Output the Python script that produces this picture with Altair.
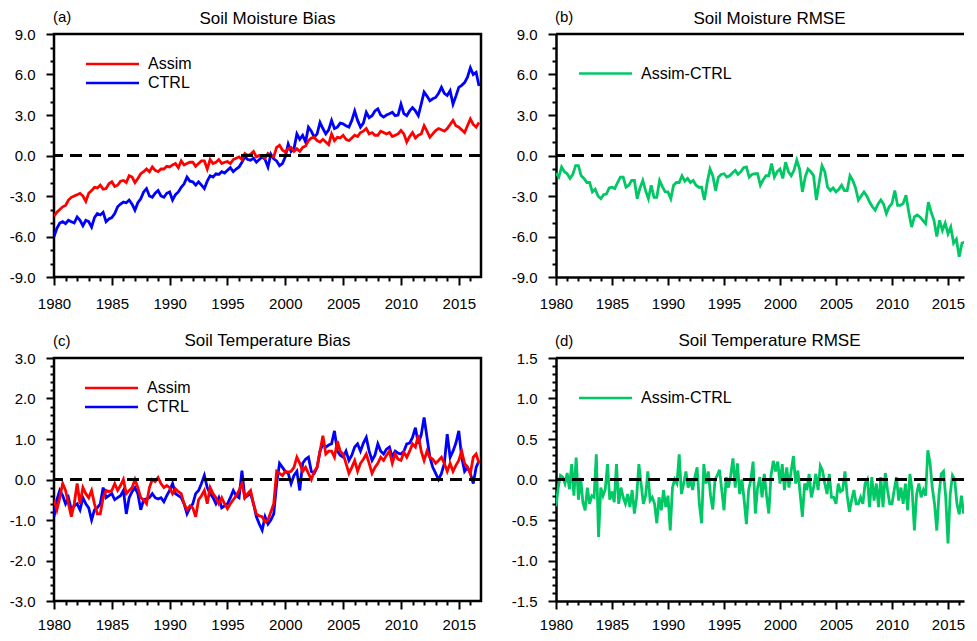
import altair as alt
import pandas as pd

FONT = "Liberation Sans"

def flat(rows):
    return [v for r in rows for v in r]

# ---------------- data (quarterly, 1980.00 .. 2016.75) ----------------
sm_assim = flat([
    [-4.5, -4.2, -4.0, -3.8], [-3.7, -3.3, -3.1, -3.0], [-2.9, -2.8, -3.0, -3.4],
    [-2.8, -2.6, -2.35, -2.4], [-2.2, -2.5, -2.45, -2.1], [-1.95, -2.3, -2.2, -1.9],
    [-1.85, -2.0, -1.5, -1.6], [-2.0, -1.7, -1.35, -1.2], [-1.0, -1.2, -0.85, -1.1],
    [-1.2, -1.0, -1.0, -0.8], [-0.85, -0.7, -0.6, -0.9], [-0.4, -0.7, -0.6, -0.5],
    [-0.5, -0.8, -0.6, -0.4], [-0.4, -1.0, -0.3, -0.6], [-0.5, -0.3, -0.6, -0.5],
    [-0.45, -0.6, -0.3, -0.2], [-0.1, -0.3, 0.15, 0.0], [0.1, 0.3, -0.1, 0.0],
    [0.0, -0.2, 0.15, 0.0], [-0.1, 0.6, 0.75, 0.4], [0.25, 0.5, 0.6, 0.3],
    [0.5, 0.3, 0.6, 0.7], [1.1, 1.3, 1.35, 1.1], [1.0, 1.2, 1.0, 0.8],
    [1.6, 1.1, 1.35, 1.3], [1.5, 1.2, 1.1, 1.3], [1.5, 1.4, 1.7, 1.8],
    [2.0, 1.6, 1.7, 1.5], [1.5, 1.8, 1.7, 1.6], [1.7, 1.4, 1.5, 1.6],
    [1.85, 1.6, 1.0, 1.4], [1.7, 1.3, 1.5, 1.6], [2.2, 1.8, 1.35, 1.6],
    [1.85, 2.0, 1.9, 1.8], [2.0, 2.3, 2.6, 2.2], [2.1, 1.9, 1.7, 2.2],
    [2.7, 2.3, 2.1, 2.45],
])
sm_ctrl = flat([
    [-6.0, -5.4, -5.0, -4.9], [-5.05, -4.8, -4.9, -5.0], [-4.55, -4.8, -5.2, -4.8],
    [-4.9, -5.3, -4.6, -4.3], [-4.4, -4.2, -4.9, -4.7], [-4.6, -4.3, -3.8, -3.6],
    [-3.45, -3.5, -3.3, -3.6], [-4.05, -3.5, -3.2, -2.7], [-2.45, -3.0, -3.1, -2.8],
    [-2.6, -3.0, -3.1, -2.8], [-2.7, -3.3, -2.9, -2.7], [-2.35, -2.1, -1.6, -1.9],
    [-1.95, -2.2, -1.95, -2.2], [-2.45, -1.9, -1.5, -1.6], [-1.35, -1.4, -1.2, -1.3],
    [-1.1, -0.9, -1.2, -1.0], [-0.85, -0.5, -0.1, -0.3], [-0.35, -0.2, -0.5, -0.3],
    [-0.1, -0.3, -0.85, 0.1], [-0.25, -0.4, -0.75, -0.6], [-0.1, 0.85, 0.3, 0.5],
    [1.6, 1.2, 1.5, 1.0], [2.1, 1.8, 1.35, 1.6], [2.45, 2.0, 1.6, 1.9],
    [2.6, 2.0, 2.1, 2.4], [2.35, 2.2, 2.1, 2.6], [3.3, 2.6, 2.1, 2.4],
    [3.2, 2.8, 2.95, 3.3], [3.45, 3.0, 2.85, 3.0], [3.1, 3.2, 2.95, 3.0],
    [3.8, 3.1, 2.95, 3.3], [3.55, 3.3, 2.95, 3.8], [4.7, 4.4, 4.05, 4.2],
    [4.3, 4.6, 5.05, 4.6], [4.45, 4.8, 3.8, 4.4], [5.05, 5.2, 5.4, 5.8],
    [6.5, 6.0, 6.15, 5.15],
])
sm_diff = flat([
    [-1.3, -1.6, -0.85, -1.2], [-1.35, -1.7, -1.4, -0.75], [-0.75, -1.5, -1.7, -2.0],
    [-2.0, -2.7, -2.5, -3.0], [-3.2, -2.9, -2.85, -2.4], [-2.35, -2.45, -2.0, -1.6],
    [-1.6, -2.35, -2.2, -1.85], [-1.85, -3.2, -2.4, -1.85], [-2.6, -3.2, -2.2, -3.1],
    [-3.1, -1.85, -2.3, -2.7], [-2.7, -3.2, -2.2, -2.0], [-2.0, -1.5, -1.9, -1.7],
    [-2.0, -1.85, -2.2, -2.35], [-2.35, -3.3, -2.0, -1.0], [-1.5, -2.6, -1.6, -1.4],
    [-1.35, -1.6, -1.5, -1.3], [-1.1, -1.4, -1.2, -0.9], [-0.85, -1.6, -1.4, -1.35],
    [-1.35, -2.2, -1.8, -1.5], [-1.5, -0.6, -1.6, -1.2], [-1.0, -1.7, -0.5, -1.2],
    [-1.5, -1.1, -0.35, -1.0], [-2.7, -1.6, -1.0, -1.2], [-1.5, -3.3, -2.0, -0.75],
    [-1.2, -2.35, -2.6, -2.4], [-2.7, -2.5, -2.2, -2.6], [-2.6, -1.5, -1.85, -2.4],
    [-3.3, -3.0, -2.7, -3.0], [-3.45, -3.8, -4.05, -3.6], [-3.3, -3.6, -4.3, -3.8],
    [-3.55, -2.6, -3.7, -3.7], [-3.55, -2.95, -4.2, -5.3], [-4.55, -4.4, -4.55, -4.8],
    [-5.05, -3.45, -4.2, -4.8], [-6.0, -4.8, -5.55, -5.0], [-5.8, -5.3, -6.5, -6.2],
    [-7.5, -6.5, -6.4, -6.3],
])
st_assim = flat([
    [-0.5, -0.75, -0.45, -0.1], [-0.27, -0.6, -0.92, -0.6], [-0.1, -0.6, -0.2, -0.35],
    [-0.45, -0.27, -0.6, -0.85], [-0.85, -0.45, -0.27, -0.3], [-0.27, -0.1, -0.27, -0.15],
    [0.0, -0.35, -0.27, -0.2], [0.0, -0.2, -0.45, -0.5], [-0.6, -0.2, 0.0, -0.05],
    [0.05, -0.1, -0.2, -0.15], [-0.2, -0.35, -0.23, -0.3], [-0.35, -0.6, -0.75, -0.65],
    [-0.7, -0.92, -0.5, -0.4], [-0.27, -0.6, -0.2, -0.35], [-0.45, -0.6, -0.45, -0.6],
    [-0.72, -0.6, -0.5, -0.4], [-0.27, -0.1, -0.45, -0.35], [-0.27, -0.6, -0.85, -0.9],
    [-0.92, -1.05, -1.0, -0.8], [-0.6, 0.2, 0.15, 0.1], [0.2, 0.18, 0.2, 0.3],
    [0.55, 0.4, 0.2, 0.3], [0.15, 0.0, 0.2, 0.3], [0.7, 1.08, 0.63, 0.7],
    [0.7, 0.55, 0.95, 0.7], [0.63, 0.4, 0.15, 0.3], [0.47, 0.2, 0.4, 0.5],
    [0.63, 0.4, 0.15, 0.3], [0.4, 0.55, 0.47, 0.6], [0.7, 0.4, 0.63, 0.5],
    [0.47, 0.67, 0.55, 0.7], [0.88, 0.8, 1.1, 0.7], [0.47, 0.7, 0.55, 0.5],
    [0.4, 0.47, 0.55, 0.4], [0.2, 0.4, 0.2, 0.35], [0.47, 0.7, 0.4, 0.3],
    [0.15, 0.55, 0.63, 0.4],
])
st_ctrl = flat([
    [-0.92, -0.5, -0.27, -0.4], [-0.6, -0.45, -0.75, -0.65], [-0.6, -0.75, -0.45, -0.6],
    [-0.7, -1.0, -0.75, -0.7], [-0.6, -0.2, -0.45, -0.4], [-0.35, -0.5, -0.45, -0.4],
    [-0.27, -0.85, -0.45, -0.3], [-0.2, -0.35, -0.75, -0.5], [-0.48, -0.45, -0.35, -0.45],
    [-0.48, -0.45, -0.55, -0.4], [-0.27, -0.1, -0.35, -0.4], [-0.45, -0.6, -0.85, -0.7],
    [-0.6, -0.35, -0.27, -0.1], [0.1, -0.2, -0.35, -0.45], [-0.6, -0.45, -0.7, -0.65],
    [-0.6, -0.45, -0.27, -0.4], [-0.45, 0.22, -0.45, -0.4], [-0.35, -0.6, -0.92, -1.1],
    [-1.25, -0.92, -1.1, -1.0], [-0.85, -0.1, 0.4, 0.3], [0.2, 0.15, -0.1, 0.1],
    [0.2, -0.27, 0.4, 0.5], [0.55, 0.2, 0.15, 0.3], [0.7, 0.88, 0.8, 0.85],
    [0.88, 1.2, 0.7, 0.6], [0.55, 0.7, 0.47, 0.6], [0.8, 0.88, 0.7, 0.9],
    [1.04, 0.7, 0.47, 0.6], [0.88, 0.7, 0.63, 0.75], [0.8, 0.55, 0.7, 0.65],
    [0.63, 0.7, 0.88, 0.9], [1.04, 1.28, 0.88, 1.1], [1.53, 1.04, 0.55, 0.3],
    [0.15, 0.0, 0.15, 0.4], [1.12, 0.55, 0.7, 0.9], [1.2, 0.55, 0.2, 0.3],
    [0.15, -0.1, 0.3, 0.47],
])
# (five values per year, 1980.0 .. 2016.8)
st_diff = flat([
    [-0.33, -0.1, 0.05, 0.03, -0.05], [0.08, -0.12, 0.19, -0.2, 0.27],
    [-0.25, 0.02, -0.28, -0.38, -0.1], [-0.3, -0.2, -0.22, 0.31, -0.71],
    [-0.1, -0.2, -0.12, 0.19, -0.25], [-0.15, -0.28, 0.19, -0.3, -0.1],
    [-0.22, -0.3, -0.18, -0.34, -0.13], [-0.42, -0.22, 0.19, -0.05, -0.3],
    [-0.2, 0.1, -0.26, -0.22, -0.3], [-0.54, -0.22, -0.38, -0.13, -0.34],
    [-0.2, -0.63, -0.1, 0.0, -0.05], [0.31, -0.18, -0.05, 0.1, -0.1],
    [0.0, -0.13, 0.03, 0.15, -0.3], [-0.54, 0.19, -0.05, 0.1, -0.2],
    [-0.37, 0.0, 0.05, 0.12, -0.13], [-0.38, 0.03, -0.1, 0.05, 0.26],
    [-0.1, 0.2, -0.18, 0.0, -0.25], [-0.55, -0.13, 0.0, 0.22, -0.42],
    [-0.1, 0.03, -0.22, 0.07, -0.2], [-0.42, 0.05, 0.23, 0.1, 0.22],
    [-0.05, 0.19, -0.13, 0.15, -0.1], [0.11, 0.29, -0.05, 0.11, -0.18],
    [-0.46, -0.05, -0.13, 0.07, -0.22], [-0.1, 0.07, -0.13, 0.17, 0.11],
    [-0.05, -0.18, 0.07, -0.22, -0.22], [-0.3, -0.05, -0.15, -0.13, 0.1],
    [-0.2, -0.4, -0.25, -0.13, -0.3], [-0.3, -0.22, -0.3, -0.05, 0.0],
    [-0.34, 0.03, -0.26, -0.05, -0.34], [0.03, -0.34, 0.08, -0.13, -0.3],
    [-0.3, -0.13, 0.03, -0.26, -0.1], [-0.3, -0.05, -0.38, 0.07, -0.13],
    [-0.63, -0.18, -0.05, -0.22, -0.13], [-0.2, 0.36, 0.2, -0.1, -0.3],
    [-0.63, -0.18, 0.07, 0.1, -0.22], [-0.79, -0.18, 0.05, 0.0, -0.3],
    [-0.43, -0.2, -0.42, -0.3, -0.2],
])

t_q = [1980 + i * 0.25 for i in range(len(sm_assim))]
t_5 = [1980 + i * 0.2 for i in range(len(st_diff))]

x_ticks = list(range(1980, 2017))
y_ticks_sm = list(range(-9, 10))
y_ticks_st = [round(-3 + 0.2 * i, 1) for i in range(31)]
y_ticks_rm = [round(-1.5 + 0.1 * i, 1) for i in range(31)]

RED, BLUE, GREEN = "#FF0000", "#0000FF", "#00C864"
WA, XA_END = 427, 2016.92     # full panels (a, c)
WB, XB_END = 408, 2016.43     # right panels, cut by the page edge
H1, H2 = 243, 243


def make_panel(series, t, ydom, yticks, major_test, tag, title, leg_x, leg_y,
               title_y, width, x_end, height, xpad, open_right):
    xaxis_kw = dict(values=x_ticks, title=None, format="d",
                    labelExpr="datum.value % 5 === 0 ? datum.label : ''",
                    tickSize={"condition": {"test": "datum.value % 5 === 0", "value": 8}, "value": 4},
                    labelPadding=xpad, minExtent=30, maxExtent=30)
    yaxis_kw = dict(values=yticks, title=None,
                    labelExpr=f"({major_test}) ? replace(format(datum.value, '.1f'), '\u2212', '-') : ''",
                    tickSize={"condition": {"test": major_test, "value": 8}, "value": 4},
                    labelPadding=11, minExtent=46, maxExtent=46)
    if open_right:
        xaxis_kw.update(domain=True, domainColor="black", domainWidth=2.5)
        yaxis_kw.update(domain=True, domainColor="black", domainWidth=2.5)
    X = alt.X("t:Q", scale=alt.Scale(domain=[1980, x_end], nice=False, zero=False),
              axis=alt.Axis(**xaxis_kw))
    Y = alt.Y("v:Q", scale=alt.Scale(domain=ydom, nice=False, zero=False),
              axis=alt.Axis(**yaxis_kw))
    layers = []
    for name, vals, color in reversed(series):
        df = pd.DataFrame({"t": t, "v": vals})
        layers.append(alt.Chart(df).mark_line(color=color, strokeWidth=2.8, clip=True)
                      .encode(x=X, y=Y))
    zero = alt.Chart(pd.DataFrame({"v": [0.0]})).mark_rule(
        color="black", strokeWidth=3, strokeDash=[12, 7]).encode(y=Y)
    layers.append(zero)
    for i, (name, vals, color) in enumerate(series):
        ly = leg_y + 19 * i
        ldf = pd.DataFrame({"n": [name]})
        layers.append(alt.Chart(ldf).mark_rule(color=color, strokeWidth=2.5).encode(
            x=alt.value(leg_x), x2=alt.value(leg_x + 53), y=alt.value(ly)))
        layers.append(alt.Chart(ldf).mark_text(align="left", baseline="middle", fontSize=16,
                                               font=FONT, color="black").encode(
            x=alt.value(leg_x + 62), y=alt.value(ly), text="n:N"))
    tdf = pd.DataFrame({"tag": [tag], "title": [title]})
    layers.append(alt.Chart(tdf).mark_text(align="left", baseline="middle", fontSize=15,
                                           font=FONT, color="black").encode(
        x=alt.value(-1), y=alt.value(-17), text="tag:N"))
    layers.append(alt.Chart(tdf).mark_text(align="center", baseline="middle", fontSize=17,
                                           font=FONT, color="black").encode(
        x=alt.value(WA / 2), y=alt.value(title_y), text="title:N"))
    if open_right:
        # top border only (the right border lies beyond the page edge)
        layers.append(alt.Chart(tdf).mark_rule(color="black", strokeWidth=2.5).encode(
            x=alt.value(0), x2=alt.value(width), y=alt.value(0)))
    ch = alt.layer(*layers).properties(width=width, height=height)
    if open_right:
        ch = ch.properties(view=alt.ViewBackground(stroke="transparent"))
    return ch


int_test = "abs(datum.value - round(datum.value)) < 0.001"
half_test = "abs(datum.value * 2 - round(datum.value * 2)) < 0.001"
sm3_test = "datum.value % 3 === 0"

pa = make_panel([("Assim", sm_assim, RED), ("CTRL", sm_ctrl, BLUE)],
                t_q, [-9, 9], y_ticks_sm, sm3_test, "(a)", "Soil Moisture Bias",
                32, 30, -15, WA, XA_END, H1, 11, False)
pb = make_panel([("Assim-CTRL", sm_diff, GREEN)], t_q, [-9, 9], y_ticks_sm, sm3_test,
                "(b)", "Soil Moisture RMSE", 23, 39.5, -15, WB, XB_END, H1, 11, True)
pc = make_panel([("Assim", st_assim, RED), ("CTRL", st_ctrl, BLUE)], t_q, [-3, 3], y_ticks_st,
                int_test, "(c)", "Soil Temperature Bias", 31, 30, -17, WA, XA_END, H2, 8, False)
pd_ = make_panel([("Assim-CTRL", st_diff, GREEN)], t_5, [-1.5, 1.5], y_ticks_rm, half_test,
                 "(d)", "Soil Temperature RMSE", 23, 40, -17, WB, XB_END, H2, 8, True)

chart = alt.vconcat(
    alt.hconcat(pa, pb, spacing=24),
    alt.hconcat(pc, pd_, spacing=24),
    spacing=17,
).properties(
    padding={"left": -2, "top": 0, "right": 0, "bottom": 0}, background="white"
).configure_view(
    stroke="black", strokeWidth=2.5
).configure_axis(
    domain=False, grid=False, tickColor="black", tickWidth=2,
    labelFont=FONT, labelFontSize=15, labelColor="black",
    labelFlush=False, labelOverlap=False,
)

chart.save("out.html", embed_options={"renderer": "svg", "actions": False})
